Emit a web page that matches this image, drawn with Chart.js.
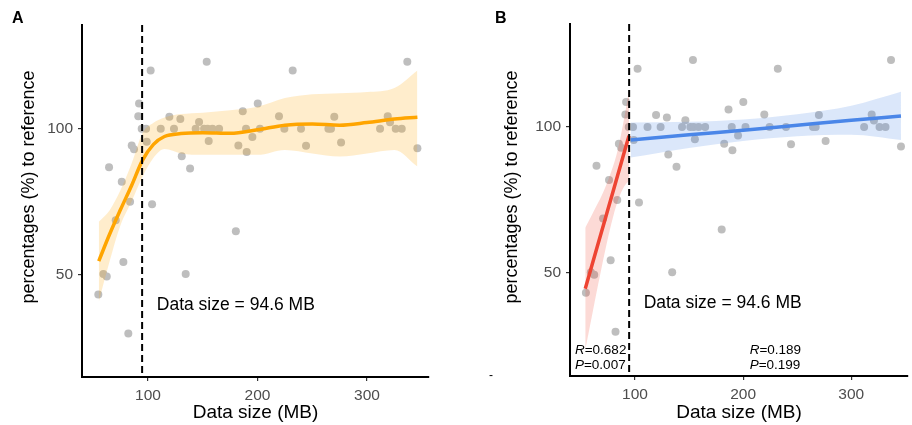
<!DOCTYPE html>
<html lang="en">
  <head>
    <meta charset="UTF-8" />
    <title>Data size vs percentages to reference</title>
    <script src="https://cdn.jsdelivr.net/npm/chart.js"></script>
    <style>
      * {
        margin: 0;
        padding: 0;
        box-sizing: border-box;
      }

      body {
        background: #fff;
        width: 912px;
        height: 425px;
        overflow: hidden;
        font-family: "Liberation Sans", Arial, sans-serif;
      }

      .panel {
        position: absolute;
        top: 0;
        width: 456px;
        height: 425px;
      }

      #panelA {
        left: 0;
      }

      #panelB {
        left: 456px;
      }
    </style>
  </head>
  <body>
    <div class="panel" id="panelA"><canvas id="chartA"></canvas></div>
    <div class="panel" id="panelB"><canvas id="chartB"></canvas></div>

    <script>
      // observed points (same in both panels)
      var sizeMB = [
        54.6, 59.2, 62.3, 64.4, 70.5, 76.0, 77.5, 82.0, 83.6, 85.1, 87.2, 91.1,
        91.8, 94.2, 98.2, 98.8, 102.4, 103.7, 111.6, 119.5, 123.7, 129.5, 130.8,
        134.4, 138.4, 143.5, 146.6, 151.2, 153.6, 154.3, 155.4, 158.8, 164.9,
        180.2, 182.5, 186.5, 189.5, 190.1, 195.3, 200.2, 202.2, 219.6, 224.5,
        232.1, 239.7, 244.3, 264.7, 267.1, 270.1, 276.3, 311.9, 318.9, 321.0,
        326.2, 331.7, 336.8, 346.0
      ];
      var pctRef = [
        43.0, 50.1, 49.2, 86.7, 68.5, 81.8, 54.2, 29.6, 74.9, 94.2, 92.9, 104.3,
        108.6, 100, 100, 95.5, 120.0, 74.0, 100, 104.1, 100, 103.3, 90.5,
        50.1, 86.3, 100, 102.3, 100, 123.0, 100, 95.8, 100, 100,
        64.8, 94.2, 106.0, 100, 92.0, 97.1, 108.6, 100, 104.3, 100,
        120.0, 100, 94.1, 100, 100, 104.1, 95.2, 100, 104.3, 102.2,
        100, 100, 123.0, 93.3
      ];
      var xTicks = [100, 200, 300];
      var yTicks = [50, 100];
      var cutoff = 94.6;

      // panel A: loess curve and its confidence band
      var loessX = [55, 65, 75, 85, 95, 105, 115, 130, 150, 175, 200, 225, 250, 275, 300, 325, 346];
      var loessY = [54.5, 63.8, 72.3, 80.5, 89.2, 94.6, 97.3, 98.3, 98.6, 98.4, 99.6, 101.2, 101.6, 101.2, 102.1, 103.3, 103.9];
      var loessHi = [68, 72, 79, 88, 98.5, 102, 103.8, 105, 105.5, 106.3, 107.5, 110.5, 111.8, 112.2, 112.6, 114, 120];
      var loessLo = [40.5, 54.5, 67, 75, 83.5, 90, 93, 91.5, 91, 91, 91, 92.7, 91.5, 90.4, 91.5, 92.7, 87];

      // panel B: linear fit below the cutoff
      var lowX = [54, 60, 66, 72, 78, 84, 90, 94.5];
      var lowY = [44.4, 52.2, 60.0, 67.8, 75.6, 83.4, 91.2, 97.0];
      var lowHi = [65.4, 69.7, 74, 78.8, 84.6, 92, 103, 112.5];
      var lowLo = [23.4, 34.7, 46, 56.8, 66.6, 74.5, 79.5, 81.5];

      // panel B: linear fit above the cutoff
      var highX = [96, 150, 200, 250, 300, 346];
      var highY = [95.5, 97.3, 98.9, 100.6, 102.3, 103.8];
      var highHi = [101.5, 101.8, 102.6, 104.4, 107.3, 112.1];
      var highLo = [89.5, 92.8, 95.2, 96.8, 97.3, 95.5];

      var FONT = '"Liberation Sans", Arial, sans-serif';

      function pairs(xs, ys) {
        return xs.map(function (x, i) {
          return { x: x, y: ys[i] };
        });
      }

      function pointSet() {
        return {
          data: pairs(sizeMB, pctRef),
          backgroundColor: "#bebebe",
          borderWidth: 0,
          pointRadius: 4,
          order: 5,
        };
      }

      // upper edge filled down to the next dataset (lower edge)
      function bandSets(xs, hi, lo, fillColor) {
        return [
          {
            data: pairs(xs, hi),
            showLine: true,
            pointRadius: 0,
            borderWidth: 0,
            borderColor: "rgba(0,0,0,0)",
            backgroundColor: fillColor,
            cubicInterpolationMode: "monotone",
            fill: "+1",
            order: 3,
          },
          {
            data: pairs(xs, lo),
            showLine: true,
            pointRadius: 0,
            borderWidth: 0,
            borderColor: "rgba(0,0,0,0)",
            cubicInterpolationMode: "monotone",
            fill: false,
            order: 4,
          },
        ];
      }

      function lineSet(xs, ys, color) {
        return {
          data: pairs(xs, ys),
          showLine: true,
          pointRadius: 0,
          borderColor: color,
          borderWidth: 3.5,
          cubicInterpolationMode: "monotone",
          fill: false,
          order: 1,
        };
      }

      // cutoff line, labels, y title and stats
      var annotations = {
        id: "annotations",
        afterDatasetsDraw: function (chart, args, opts) {
          var ctx = chart.ctx;
          var xs = chart.scales.x;
          var ys = chart.scales.y;
          var area = chart.chartArea;
          ctx.save();

          var cx = xs.getPixelForValue(cutoff);
          ctx.strokeStyle = "#000";
          ctx.lineWidth = 2;
          ctx.setLineDash([7, 4]);
          ctx.beginPath();
          ctx.moveTo(cx, area.top);
          ctx.lineTo(cx, area.bottom);
          ctx.stroke();
          ctx.setLineDash([]);

          ctx.fillStyle = "#000";
          ctx.textAlign = "left";
          ctx.textBaseline = "alphabetic";
          ctx.font = "17.5px " + FONT;
          ctx.fillText("Data size = " + cutoff + " MB", xs.getPixelForValue(108), ys.getPixelForValue(37.7));

          ctx.font = "bold 16px " + FONT;
          ctx.fillText(opts.letter, opts.letterX, 23);

          // y axis title
          ctx.save();
          ctx.translate(opts.titleX, 187);
          ctx.rotate(-Math.PI / 2);
          ctx.textAlign = "center";
          ctx.textBaseline = "middle";
          ctx.font = "18px " + FONT;
          ctx.fillText("percentages (%) to reference", 0, 0);
          ctx.restore();

          (opts.stats || []).forEach(function (s) {
            var px = xs.getPixelForValue(s.x);
            [["R", s.r, s.y1], ["P", s.p, s.y2]].forEach(function (row) {
              var py = ys.getPixelForValue(row[2]);
              ctx.font = "italic 13.5px " + FONT;
              ctx.fillText(row[0], px, py);
              var w = ctx.measureText(row[0]).width;
              ctx.font = "13.5px " + FONT;
              ctx.fillText("=" + row[1], px + w, py);
            });
          });

          if (opts.stray) {
            ctx.font = "12px " + FONT;
            ctx.textBaseline = "middle";
            ctx.fillText("-", opts.stray[0], opts.stray[1]);
          }
          ctx.restore();
        },
      };

      function makePanel(id, p) {
        var ctx = document.getElementById(id).getContext("2d");
        return new Chart(ctx, {
          type: "scatter",
          data: { datasets: p.datasets },
          options: {
            responsive: true,
            maintainAspectRatio: false,
            animation: false,
            layout: { padding: { top: p.top, right: p.right, bottom: 0, left: 0 } },
            plugins: {
              legend: { display: false },
              tooltip: { enabled: false },
              annotations: p.notes,
            },
            scales: {
              x: {
                type: "linear",
                min: p.xMin,
                max: p.xMax,
                afterBuildTicks: function (s) {
                  s.ticks = xTicks.map(function (v) { return { value: v }; });
                },
                afterFit: function (s) {
                  s.height = p.xAxisH;
                },
                border: { display: true, color: "#000", width: 2 },
                grid: { drawOnChartArea: false, drawTicks: true, tickLength: 4, color: "#333", lineWidth: 1.2 },
                ticks: { color: "#4d4d4d", font: { family: FONT, size: 15.5 }, padding: 5, maxRotation: 0 },
                title: {
                  display: true,
                  text: "Data size (MB)",
                  color: "#000",
                  font: { family: FONT, size: 19 },
                  padding: { top: 0, bottom: 1 },
                },
              },
              y: {
                type: "linear",
                min: p.yMin,
                max: p.yMax,
                afterBuildTicks: function (s) {
                  s.ticks = yTicks.map(function (v) { return { value: v }; });
                },
                afterFit: function (s) {
                  s.width = p.yAxisW;
                },
                border: { display: true, color: "#000", width: 2 },
                grid: { drawOnChartArea: false, drawTicks: true, tickLength: 4, color: "#333", lineWidth: 1.2 },
                ticks: { color: "#4d4d4d", font: { family: FONT, size: 15.5 }, padding: 5 },
              },
            },
          },
          plugins: [annotations],
        });
      }

      // Panel A: loess smooth
      makePanel("chartA", {
        datasets: [pointSet()]
          .concat(bandSets(loessX, loessHi, loessLo, "rgba(255,165,0,0.2)"))
          .concat([lineSet(loessX, loessY, "#FFA500")]),
        top: 25,
        right: 27,
        xAxisH: 48,
        yAxisW: 82,
        xMin: 39.7,
        xMax: 356.6,
        yMin: 14.7,
        yMax: 135.6,
        notes: { letter: "A", letterX: 12, titleX: 29.5 },
      });

      // Panel B: piecewise linear fits
      makePanel("chartB", {
        datasets: [pointSet()]
          .concat(bandSets(lowX, lowHi, lowLo, "rgba(238,68,51,0.2)"))
          .concat(bandSets(highX, highHi, highLo, "rgba(74,134,232,0.2)"))
          .concat([lineSet(lowX, lowY, "#EE4433"), lineSet(highX, highY, "#4A86E8")]),
        top: 24,
        right: 0,
        xAxisH: 49,
        yAxisW: 114,
        xMin: 39.9,
        xMax: 352.5,
        yMin: 14.4,
        yMax: 135.4,
        notes: {
          letter: "B",
          letterX: 39,
          titleX: 55.7,
          stats: [
            { x: 44.5, r: "0.682", p: "0.007", y1: 22.1, y2: 16.7 },
            { x: 206.1, r: "0.189", p: "0.199", y1: 22.1, y2: 16.7 },
          ],
          stray: [33, 376],
        },
      });
    </script>
  </body>
</html>
